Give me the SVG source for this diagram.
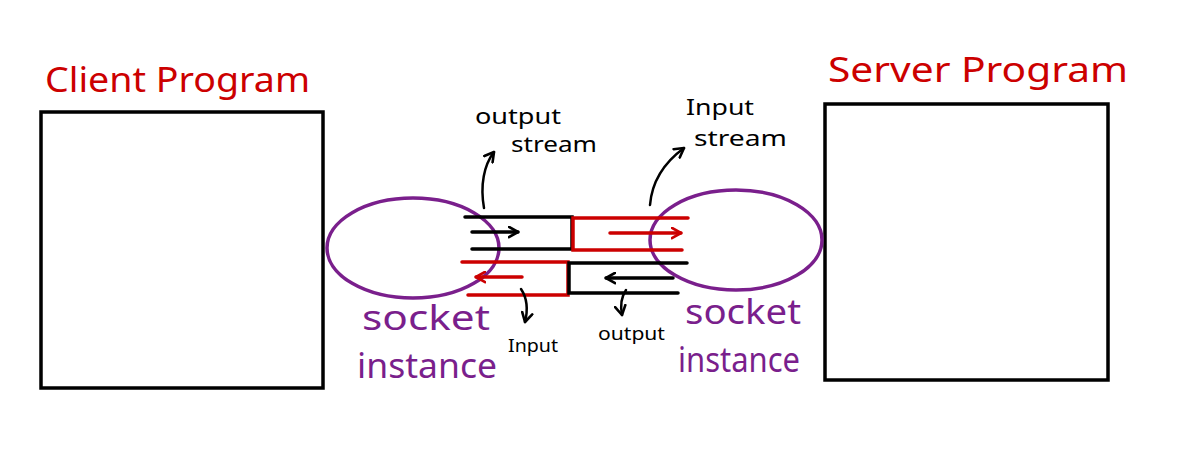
<svg xmlns="http://www.w3.org/2000/svg" width="1184" height="457" viewBox="0 0 1184 457">
<defs>
<marker id="ahb" viewBox="0 0 10 10" refX="8" refY="5" markerWidth="13" markerHeight="13" markerUnits="userSpaceOnUse" orient="auto">
<path d="M1,1 L8,5 L1,9" fill="none" stroke="#000" stroke-width="2" stroke-linecap="round" stroke-linejoin="round"/>
</marker>
<marker id="ahr" viewBox="0 0 10 10" refX="8" refY="5" markerWidth="13" markerHeight="13" markerUnits="userSpaceOnUse" orient="auto">
<path d="M1,1 L8,5 L1,9" fill="none" stroke="#cc0000" stroke-width="2" stroke-linecap="round" stroke-linejoin="round"/>
</marker>
</defs>
<style>
.box{fill:none;stroke:#000;stroke-width:3.5}
.sock{fill:none;stroke:#7a1f8c;stroke-width:3.5}
.bl{fill:none;stroke:#000;stroke-width:3.5;stroke-linecap:round;stroke-linejoin:miter}
.rd{fill:none;stroke:#cc0000;stroke-width:3.5;stroke-linecap:round;stroke-linejoin:miter}
.thin{fill:none;stroke:#000;stroke-width:2.5;stroke-linecap:round}
.title{font-family:"Noto Sans","Liberation Sans",sans-serif;font-size:34px;fill:#cc0000}
.lbl{font-family:"Noto Sans","Liberation Sans",sans-serif;font-size:22px;fill:#000}
.small{font-family:"Noto Sans","Liberation Sans",sans-serif;font-size:18px;fill:#000}
.purp{font-family:"Noto Sans","Liberation Sans",sans-serif;font-size:34px;fill:#7a1f8c}
</style>
<rect width="1184" height="457" fill="#fff"/>
<g id="client">
<rect class="box" x="41" y="112" width="282" height="276"/>
<text class="title" x="45" y="92" textLength="265" lengthAdjust="spacingAndGlyphs">Client Program</text>
</g>
<g id="server">
<rect class="box" x="825" y="104" width="283" height="276"/>
<text class="title" x="828" y="82" textLength="300" lengthAdjust="spacingAndGlyphs">Server Program</text>
</g>
<g id="client-socket">
<ellipse class="sock" cx="413" cy="248" rx="86" ry="50"/>
<text class="purp" x="362" y="330" textLength="128" lengthAdjust="spacingAndGlyphs">socket</text>
<text class="purp" x="357" y="378" textLength="140" lengthAdjust="spacingAndGlyphs">instance</text>
</g>
<g id="server-socket">
<ellipse class="sock" cx="736" cy="240" rx="86" ry="50"/>
<text class="purp" x="685" y="324" textLength="116" lengthAdjust="spacingAndGlyphs">socket</text>
<text class="purp" x="678" y="372" textLength="122" lengthAdjust="spacingAndGlyphs">instance</text>
</g>
<g id="client-output-stream">
<path class="bl" d="M465,217 H572 V249 H472"/>
<line class="bl" x1="472" y1="232" x2="518" y2="232" marker-end="url(#ahb)"/>
</g>
<g id="server-input-stream">
<path class="rd" d="M688,218 H573 V250 H682"/>
<line class="rd" x1="610" y1="233" x2="681" y2="233" marker-end="url(#ahr)"/>
</g>
<g id="client-input-stream">
<path class="rd" d="M462,262 H568 V295 H468"/>
<line class="rd" x1="522" y1="277" x2="476" y2="277" marker-end="url(#ahr)"/>
</g>
<g id="server-output-stream">
<path class="bl" d="M687,263 H569 V293 H678"/>
<line class="bl" x1="673" y1="278" x2="606" y2="278" marker-end="url(#ahb)"/>
</g>
<g id="connectors">
<path class="thin" d="M484,208 C480,185 484,165 494,152" marker-end="url(#ahb)"/>
<path class="thin" d="M650,205 C652,180 665,162 684,148" marker-end="url(#ahb)"/>
<path class="thin" d="M521,289 C527,298 528,310 525,322" marker-end="url(#ahb)"/>
<path class="thin" d="M626,290 C622,296 620,305 622,315" marker-end="url(#ahb)"/>
</g>
<g id="labels">
<text class="lbl" x="475" y="124" textLength="86" lengthAdjust="spacingAndGlyphs">output</text>
<text class="lbl" x="511" y="152" textLength="86" lengthAdjust="spacingAndGlyphs">stream</text>
<text class="lbl" x="686" y="115" textLength="68" lengthAdjust="spacingAndGlyphs">Input</text>
<text class="lbl" x="694" y="146" textLength="93" lengthAdjust="spacingAndGlyphs">stream</text>
<text class="small" x="508" y="352" textLength="50" lengthAdjust="spacingAndGlyphs">Input</text>
<text class="small" x="598" y="340" textLength="67" lengthAdjust="spacingAndGlyphs">output</text>
</g>
</svg>
